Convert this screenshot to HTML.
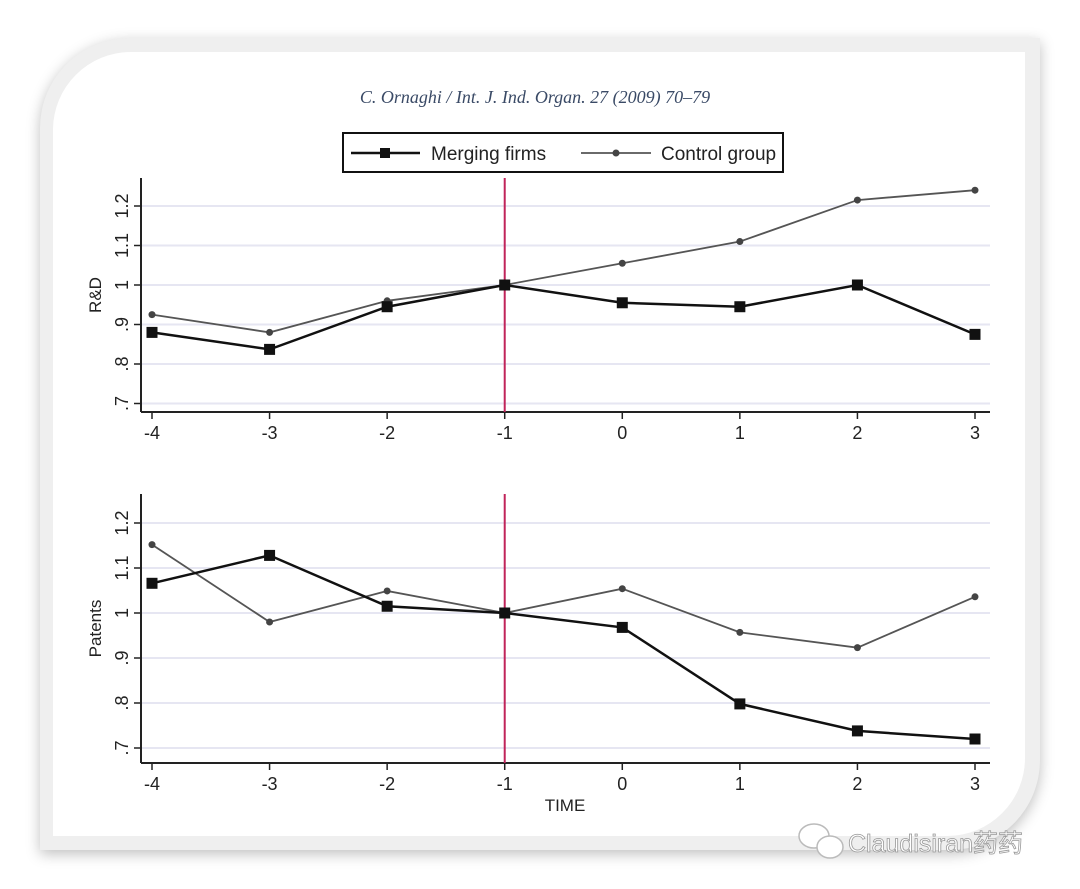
<!DOCTYPE html>
<html><head><meta charset="utf-8"><style>
html,body{margin:0;padding:0;background:#fff;}
body{width:1080px;height:889px;overflow:hidden;position:relative;font-family:"Liberation Sans",sans-serif;}
#frame{position:absolute;left:40px;top:38px;width:1000px;height:812px;background:#efefef;border-radius:90px 0 90px 0;box-shadow:0 4px 14px rgba(0,0,0,0.25);}
#inner{position:absolute;left:53px;top:52px;width:972px;height:784px;background:#fff;border-radius:78px 0 78px 0;}
</style></head><body>
<div id="frame"></div>
<div id="inner"></div>
<svg id="chart" width="1080" height="889" style="position:absolute;left:0;top:0">
<text x="535" y="103" text-anchor="middle" font-family="Liberation Serif,serif" font-style="italic" font-size="18" fill="#3a4a66">C. Ornaghi / Int. J. Ind. Organ. 27 (2009) 70–79</text>
<g>
<rect x="343" y="133" width="440" height="39" fill="#fff" stroke="#111" stroke-width="2"/>
<g>
<line x1="351" y1="153" x2="420" y2="153" stroke="#111" stroke-width="2.5"/>
<rect x="380" y="148" width="10" height="10" fill="#111"/>
<text x="431" y="160" font-size="19" fill="#222">Merging firms</text>
</g>
<g>
<line x1="581" y1="153" x2="651" y2="153" stroke="#555" stroke-width="1.8"/>
<circle cx="616" cy="153" r="3.5" fill="#444"/>
<text x="661" y="160" font-size="19" fill="#222">Control group</text>
</g>
</g>
<g id="plots"></g>
<text x="565" y="811" text-anchor="middle" font-size="17" fill="#222">TIME</text>
<g>
<ellipse cx="814" cy="836" rx="15" ry="12" fill="#fff" stroke="#bbb" stroke-width="1.5"/>
<ellipse cx="830" cy="847" rx="13" ry="11" fill="#fff" stroke="#bbb" stroke-width="1.5"/>
<text x="848" y="852" font-family="Liberation Sans,'Noto Sans CJK SC',sans-serif" font-size="25" fill="#fff" stroke="#999" stroke-width="0.8">Claudisiran药药</text>
</g>
</svg>
<script>
const times = [-4,-3,-2,-1,0,1,2,3];
const xTickLabels = ["-4","-3","-2","-1","0","1","2","3"];
const yTicks = [0.7,0.8,0.9,1.0,1.1,1.2];
const yTickLabels = [".7",".8",".9","1","1.1","1.2"];
const rdMerging = [0.88,0.837,0.945,1.0,0.955,0.945,1.0,0.875];
const rdControl = [0.925,0.88,0.96,1.0,1.055,1.11,1.215,1.24];
const patMerging = [1.066,1.128,1.015,1.0,0.968,0.798,0.738,0.72];
const patControl = [1.152,0.98,1.049,1.0,1.054,0.957,0.923,1.036];
const eventTime = -1;

const NS="http://www.w3.org/2000/svg";
const g=document.getElementById('plots');
function mk(tag,attrs,parent){const e=document.createElementNS(NS,tag);for(const k in attrs)e.setAttribute(k,attrs[k]);(parent||g).appendChild(e);return e;}
const xScale=t=>152+(t-(-4))*(975-152)/7;

function panel(name,yTop,y1,y12,xAxisY,label,merging,control){
  const yScale=v=>y1+(v-1)*(y12-y1)/0.2;
  const pg=mk('g',{});
  
  
  yTicks.forEach((v,i)=>{
    const y=yScale(v);
    const gl=mk('line',{x1:141,x2:990,y1:y,y2:y,stroke:'#e6e6f2','stroke-width':2},pg);
    
    
    mk('line',{x1:134,x2:141,y1:y,y2:y,stroke:'#222','stroke-width':1.5},pg);
    const t=mk('text',{x:0,y:0,transform:`translate(128,${y}) rotate(-90)`,'text-anchor':'middle','font-size':18,fill:'#222'},pg);
    t.textContent=yTickLabels[i];
    
    
  });
  const ya=mk('line',{x1:141,x2:141,y1:yTop,y2:xAxisY,stroke:'#222','stroke-width':2},pg);
  
  
  const xa=mk('line',{x1:141,x2:990,y1:xAxisY,y2:xAxisY,stroke:'#222','stroke-width':2},pg);
  
  
  times.forEach((tv,i)=>{
    const x=xScale(tv);
    mk('line',{x1:x,x2:x,y1:xAxisY,y2:xAxisY+7,stroke:'#222','stroke-width':1.5},pg);
    const t=mk('text',{x:x,y:xAxisY+27,'text-anchor':'middle','font-size':18,fill:'#222'},pg);
    t.textContent=xTickLabels[i];
    
    
  });
  const yl=mk('text',{x:0,y:0,transform:`translate(101,${(yTop+xAxisY)/2}) rotate(-90)`,'text-anchor':'middle','font-size':17,fill:'#222'},pg);
  yl.textContent=label;
  
  
  const vx=xScale(eventTime);
  const vl=mk('line',{x1:vx,x2:vx,y1:yTop,y2:xAxisY,stroke:'#c0245a','stroke-width':2},pg);
  
  
  const cp=mk('polyline',{points:control.map((v,i)=>xScale(times[i])+','+yScale(v)).join(' '),fill:'none',stroke:'#555','stroke-width':1.8},pg);
  
  
  control.forEach((v,i)=>{
    const c=mk('circle',{cx:xScale(times[i]),cy:yScale(v),r:3.5,fill:'#444'},pg);
    
    
  });
  const mp=mk('polyline',{points:merging.map((v,i)=>xScale(times[i])+','+yScale(v)).join(' '),fill:'none',stroke:'#111','stroke-width':2.5},pg);
  
  
  merging.forEach((v,i)=>{
    const r=mk('rect',{x:xScale(times[i])-5.5,y:yScale(v)-5.5,width:11,height:11,fill:'#111'},pg);
    
    
  });
}
panel('rd-panel',178,285,206,412,'R&D',rdMerging,rdControl);
panel('patents-panel',494,613,523,763,'Patents',patMerging,patControl);
</script>
</body></html>
